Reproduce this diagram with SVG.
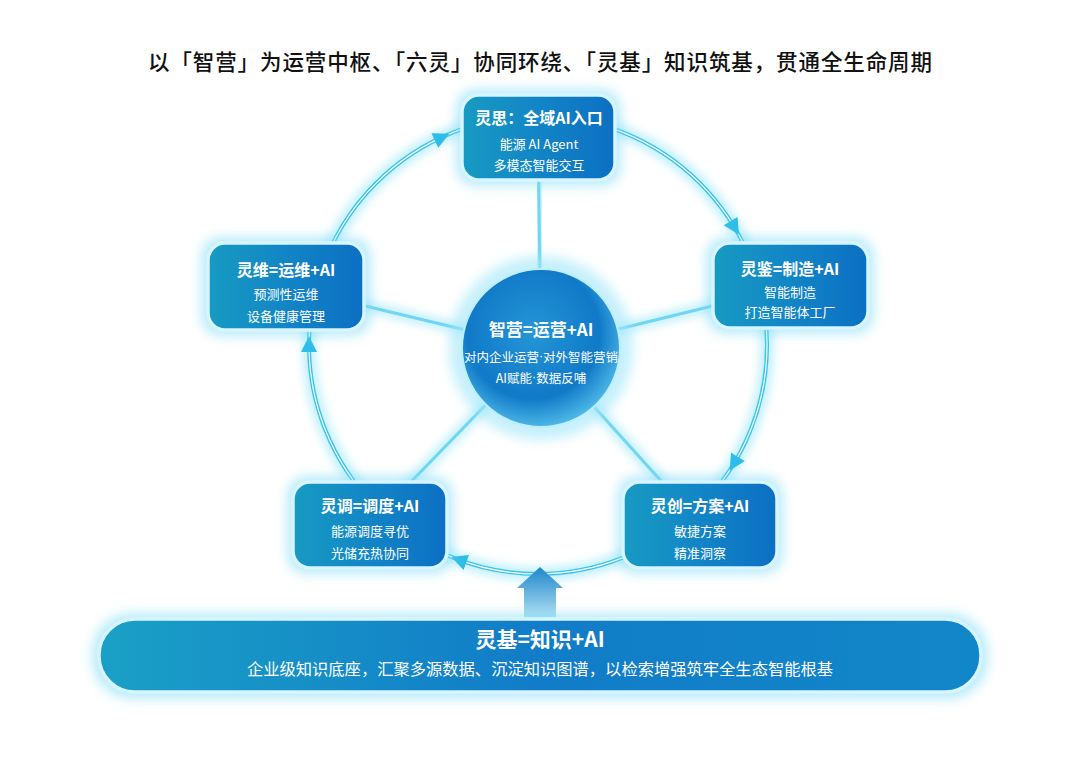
<svg xmlns="http://www.w3.org/2000/svg" xmlns:xlink="http://www.w3.org/1999/xlink" width="1080" height="764" viewBox="0 0 1080 764">
<style>
text{font-family:"Noto Sans CJK SC","Noto Sans",sans-serif;fill:#fff;text-anchor:middle;dominant-baseline:central}
.ttl{font-size:21.5px;fill:#111;font-weight:500}
.nt{font-size:16px;font-weight:700}
.ns{font-size:13px}
.ct{font-size:17px;font-weight:700}
.cs{font-size:12.5px}
.dot{font-family:"Liberation Sans",sans-serif}
.bt{font-size:21px;font-weight:700}
.bs{font-size:16.3px}
.box{fill:url(#boxg);stroke:#d6f5ff;stroke-width:3.5}
.glow{fill:#7fdcf6;opacity:.55;filter:url(#blur6)}
.ah{fill:#2ebde8}
</style>
<defs>
<linearGradient id="boxg" x1="0" y1="0" x2="1" y2="0">
<stop offset="0" stop-color="#179bc2"/>
<stop offset="0.5" stop-color="#1285c6"/>
<stop offset="1" stop-color="#0c6fc3"/>
</linearGradient>
<linearGradient id="barg" x1="0" y1="0" x2="1" y2="0">
<stop offset="0" stop-color="#1aa0c6"/>
<stop offset="0.5" stop-color="#117cc8"/>
<stop offset="1" stop-color="#1287c8"/>
</linearGradient>
<radialGradient id="circg" cx="0.45" cy="0.4" r="0.6">
<stop offset="0" stop-color="#2496d6"/>
<stop offset="0.7" stop-color="#1079c8"/>
<stop offset="1" stop-color="#4cb6e6"/>
</radialGradient>
<linearGradient id="upg" x1="0" y1="0" x2="0" y2="1">
<stop offset="0" stop-color="#1e86cc"/>
<stop offset="1" stop-color="#bfe8f6"/>
</linearGradient>
<filter id="blur6" x="-30%" y="-30%" width="160%" height="160%"><feGaussianBlur stdDeviation="6"/></filter>
<filter id="blur4" x="-30%" y="-30%" width="160%" height="160%"><feGaussianBlur stdDeviation="4"/></filter>
<polygon id="ah" class="ah" points="767,354 759,338 775,338"/>
</defs>
<rect width="1080" height="764" fill="#fff"/>
<text class="ttl" x="540" y="60" textLength="784" lengthAdjust="spacing">以「智营」为运营中枢、「六灵」协同环绕、「灵基」知识筑基，贯通全生命周期</text>
<g id="connectors">
<g stroke-linecap="round">
<line x1="541" y1="348" x2="538" y2="137" stroke="#8fe3f8" stroke-width="12" opacity="0.5" filter="url(#blur4)"/>
<line x1="541" y1="348" x2="286" y2="287" stroke="#8fe3f8" stroke-width="12" opacity="0.5" filter="url(#blur4)"/>
<line x1="541" y1="348" x2="790" y2="287" stroke="#8fe3f8" stroke-width="12" opacity="0.5" filter="url(#blur4)"/>
<line x1="541" y1="348" x2="370" y2="524" stroke="#8fe3f8" stroke-width="12" opacity="0.5" filter="url(#blur4)"/>
<line x1="541" y1="348" x2="700" y2="524" stroke="#8fe3f8" stroke-width="12" opacity="0.5" filter="url(#blur4)"/>
<line x1="541" y1="348" x2="538" y2="137" stroke="#6fd6f4" stroke-width="3"/>
<line x1="541" y1="348" x2="286" y2="287" stroke="#6fd6f4" stroke-width="3"/>
<line x1="541" y1="348" x2="790" y2="287" stroke="#6fd6f4" stroke-width="3"/>
<line x1="541" y1="348" x2="370" y2="524" stroke="#6fd6f4" stroke-width="3"/>
<line x1="541" y1="348" x2="700" y2="524" stroke="#6fd6f4" stroke-width="3"/>
</g>
<circle cx="538" cy="345" r="229" fill="none" stroke="#8ae4fa" stroke-width="14" opacity="0.5" filter="url(#blur4)"/>
<circle cx="538" cy="345" r="229" fill="none" stroke="#38c4ec" stroke-width="4"/>
<circle cx="538" cy="345" r="229" fill="none" stroke="#ffffff" stroke-width="1.2"/>
<use xlink:href="#ah" transform="rotate(-115 538 345)"/>
<use xlink:href="#ah" transform="rotate(-31 538 345)"/>
<use xlink:href="#ah" transform="rotate(31 538 345)"/>
<use xlink:href="#ah" transform="rotate(110 538 345)"/>
<use xlink:href="#ah" transform="rotate(180 538 345)"/>
<polygon points="540,567 563,588 556,588 556,622 524,622 524,588 517,588" fill="url(#upg)"/>
</g>
<g id="node-zhiying">
<circle cx="541" cy="348" r="92" fill="#9fe6fa" opacity="0.6" filter="url(#blur6)"/>
<circle cx="541" cy="348" r="79" fill="url(#circg)" stroke="#bdeefc" stroke-width="2"/>
<text class="ct" x="541" y="328">智营=运营+AI</text>
<text class="cs" x="541" y="356">对内企业运营<tspan class="dot">·</tspan>对外智能营销</text>
<text class="cs" x="541" y="377">AI赋能<tspan class="dot">·</tspan>数据反哺</text>
</g>
<g id="node-lingsi">
<rect class="glow" x="456" y="89" width="165" height="97" rx="20"/>
<rect class="box" x="462" y="95" width="153" height="85" rx="17"/>
<text class="nt" x="539" y="117">灵思：全域AI入口</text>
<text class="ns" x="539" y="143">能源 AI Agent</text>
<text class="ns" x="539" y="164">多模态智能交互</text>
</g>
<g id="node-lingwei">
<rect class="glow" x="201" y="237" width="170" height="99" rx="20"/>
<rect class="box" x="208" y="243" width="156" height="87" rx="17"/>
<text class="nt" x="286" y="269">灵维=运维+AI</text>
<text class="ns" x="286" y="293">预测性运维</text>
<text class="ns" x="286" y="315">设备健康管理</text>
</g>
<g id="node-lingjian">
<rect class="glow" x="706" y="237" width="168" height="97" rx="20"/>
<rect class="box" x="713" y="243" width="155" height="85" rx="17"/>
<text class="nt" x="790" y="268">灵鉴=制造+AI</text>
<text class="ns" x="790" y="291">智能制造</text>
<text class="ns" x="790" y="311">打造智能体工厂</text>
</g>
<g id="node-lingdiao">
<rect class="glow" x="287" y="476" width="166" height="98" rx="20"/>
<rect class="box" x="293" y="482" width="154" height="86" rx="17"/>
<text class="nt" x="370" y="505">灵调=调度+AI</text>
<text class="ns" x="370" y="530">能源调度寻优</text>
<text class="ns" x="370" y="552">光储充热协同</text>
</g>
<g id="node-lingchuang">
<rect class="glow" x="617" y="476" width="166" height="98" rx="20"/>
<rect class="box" x="623" y="482" width="154" height="86" rx="17"/>
<text class="nt" x="700" y="505">灵创=方案+AI</text>
<text class="ns" x="700" y="530">敏捷方案</text>
<text class="ns" x="700" y="552">精准洞察</text>
</g>
<g id="node-lingji">
<rect class="glow" x="92" y="613" width="896" height="86" rx="40"/>
<rect x="99" y="619" width="882" height="73" rx="36" fill="url(#barg)" stroke="#d6f5ff" stroke-width="3.5"/>
<text class="bt" x="540" y="638">灵基=知识+AI</text>
<text class="bs" x="540" y="668">企业级知识底座，汇聚多源数据、沉淀知识图谱，以检索增强筑牢全生态智能根基</text>
</g>
</svg>
